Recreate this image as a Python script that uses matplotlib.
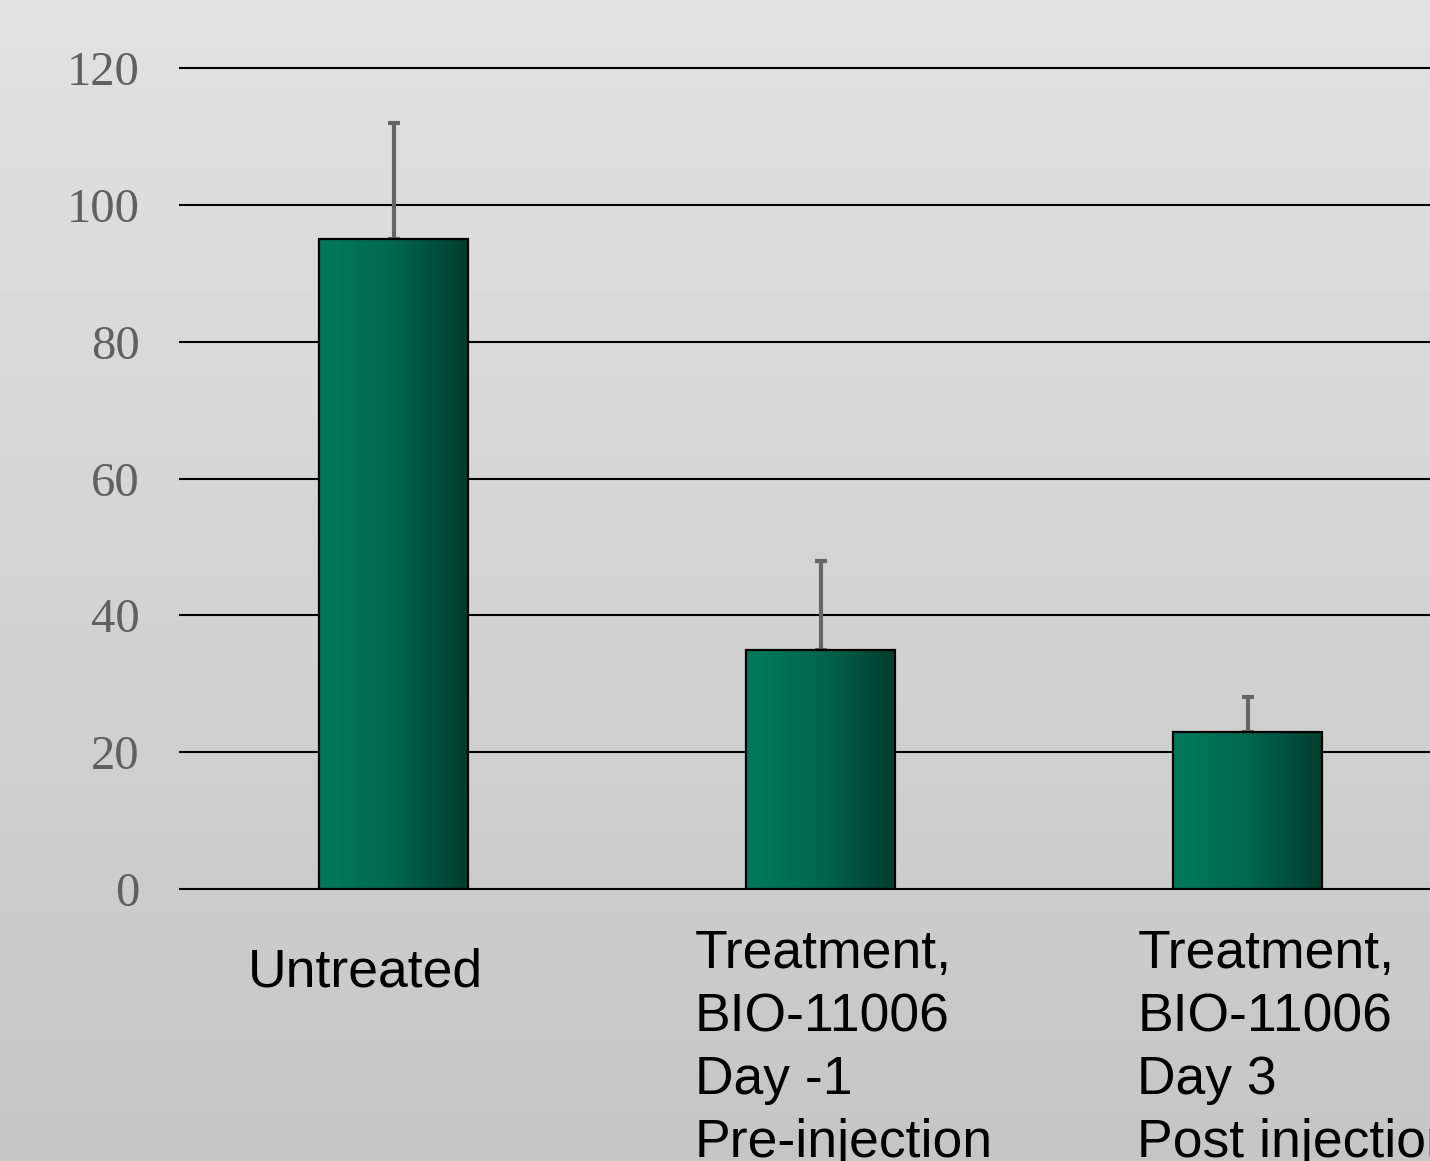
import numpy as np
import matplotlib.pyplot as plt
from matplotlib.colors import LinearSegmentedColormap

# data
categories = [
    "Untreated",
    "Treatment,\nBIO-11006\nDay -1\nPre-injection",
    "Treatment,\nBIO-11006\nDay 3\nPost injection",
]
values = [95, 35, 23]
errors_up = [17, 13, 5]
yticks = [0, 20, 40, 60, 80, 100, 120]

W, H = 1430, 1161
fig = plt.figure(figsize=(W / 100, H / 100), dpi=100)

# background gradient (light top, darker bottom)
bg = fig.add_axes([0, 0, 1, 1], zorder=-10)
grad = np.linspace(0, 1, 256).reshape(-1, 1)
bg_cmap = LinearSegmentedColormap.from_list("bg", ["#e2e2e2", "#c6c6c6"])
bg.imshow(grad, aspect="auto", cmap=bg_cmap, extent=[0, 1, 0, 1], origin="upper")
bg.axis("off")

ax = fig.add_axes([180 / W, 272 / H, 1281 / W, 821 / H])
ax.patch.set_alpha(0)
for s in ax.spines.values():
    s.set_visible(False)

x = np.arange(len(categories))
width = 0.347

for t in yticks:
    ax.axhline(t, color="black", lw=1.5, zorder=1, clip_on=False)

bar_cmap = LinearSegmentedColormap.from_list("bar", ["#007a5c", "#00674e", "#003d2c"])
hgrad = np.linspace(0, 1, 256).reshape(1, -1)

ax.errorbar(x, values, yerr=[[0] * len(values), errors_up], fmt="none",
            ecolor="#666666", elinewidth=3, capsize=4.5, capthick=3, zorder=2)

bars = ax.bar(x, values, width=width, facecolor="none", edgecolor="black",
              linewidth=1.6, zorder=4)
for b in bars:
    x0, y0 = b.get_x(), b.get_y()
    im = ax.imshow(hgrad, aspect="auto", cmap=bar_cmap, zorder=3,
                   extent=[x0, x0 + b.get_width(), y0, y0 + b.get_height()])
    im.set_clip_path(b)
ax.set_xlim(-0.5, len(categories) - 0.5)
ax.set_ylim(0, 120)

ax.set_xticks([])
ax.set_yticks(yticks)
ax.tick_params(axis="y", length=0, pad=29)
for lab in ax.get_yticklabels():
    lab.set_fontfamily("Liberation Serif")
    lab.set_fontsize(35)
    lab.set_color("#606060")

# category labels under the axis
label_dx = [-0.342, -0.295, -0.258]
label_y = [-8.6, -5.9, -5.9]
for i, txt in enumerate(categories):
    ax.text(x[i] + label_dx[i], label_y[i], txt, ha="left", va="top",
            fontsize=38.5, family="Liberation Sans", color="black",
            linespacing=1.33, clip_on=False)

fig.savefig("out.png", dpi=100)
